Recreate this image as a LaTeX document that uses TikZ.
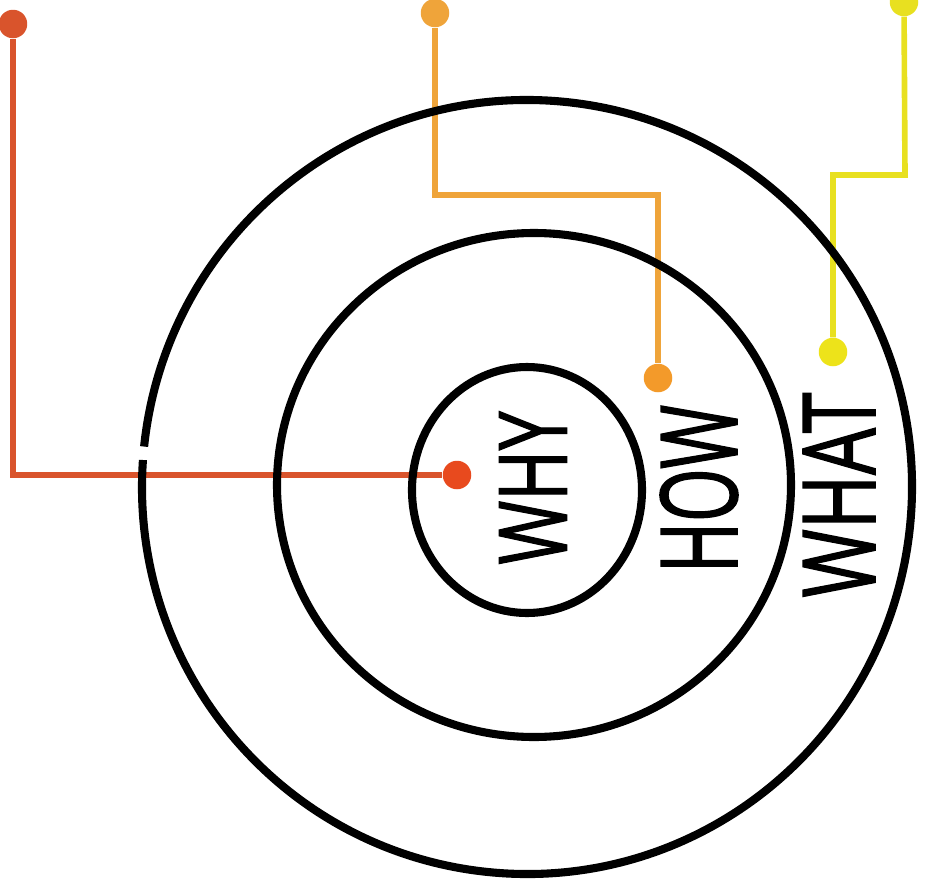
\documentclass[tikz,border=0pt]{standalone}
\usepackage{fontspec}
\setmainfont{Open Sans}
\newfontfamily\markerfont[FakeBold=1.6]{Open Sans}
\usepackage{graphicx}
\usetikzlibrary{calc}

\definecolor{whyred}{RGB}{217,84,44}
\definecolor{whydot}{RGB}{232,74,30}
\definecolor{howorange}{RGB}{239,164,58}
\definecolor{howdot}{RGB}{243,154,42}
\definecolor{whatyellow}{RGB}{232,224,32}
\definecolor{whatdot}{RGB}{237,227,26}

\tikzset{
  ring/.style={line width=4.6pt, black},
  leader/.style={line width=3.2pt},
  pin/.style={circle, fill, inner sep=0pt, minimum size=0.57cm},
  word/.style={rotate=90, inner sep=0pt, font=\markerfont}
}

% stretch a word to a given length and thickness
\newcommand{\handword}[3]{\resizebox{#1}{#2}{#3}}

\begin{document}
\begin{tikzpicture}[x=0.02cm, y=-0.02cm]

    \useasboundingbox (0,0) rectangle (934,883);

    % 1. The coloured leaders with their end points
    \node[pin, whyred]   (whytop)  at (13,24)  {};
    \node[pin, whydot]   (whyend)  at (457,475) {};
    \node[pin, howorange](howtop)  at (435,13)  {};
    \node[pin, howdot]   (howend)  at (658,378) {};
    \node[pin, whatyellow](whattop) at (904,2) {};
    \node[pin, whatdot]  (whatend) at (833,352) {};

    \coordinate (howbend)  at (435,195);
    \coordinate (whatbend) at (905,175);

    \draw[leader, whyred] (whytop) |- (whyend);
    \draw[leader, howorange] (howtop) -- (howbend) -| (howend);
    \draw[leader, whatyellow] (whattop) -- (whatbend) -| (whatend);

    % 2. The three rings (the outer one has a small break on the left)
    \coordinate (centre) at (527,487);
    \draw[ring] (centre) ++(186:385 and 387)
        arc [start angle=186, end angle=544, x radius=385, y radius=387];
    \draw[ring] (534,485) ellipse [x radius=257, y radius=252];
    \draw[ring] (527,490) ellipse [x radius=115, y radius=123];

    % 3. Words, read from bottom to top
    \node[word] (why)  at (533,488) {\handword{3.06cm}{1.34cm}{WHY}};
    \node[word] (how)  at (699,489) {\handword{3.36cm}{1.54cm}{HOW}};
    \node[word] (what) at (839,495) {\handword{4.1cm}{1.44cm}{WHAT}};

\end{tikzpicture}
\end{document}
